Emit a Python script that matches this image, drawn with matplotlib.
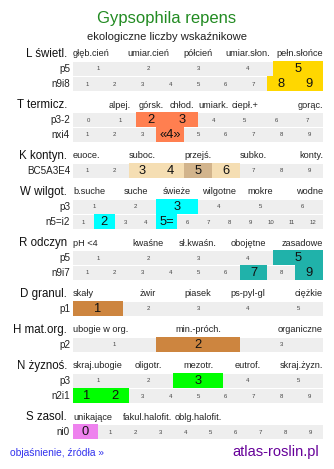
import matplotlib
matplotlib.use("Agg")
import matplotlib.pyplot as plt

plt.rcParams['font.family'] = ['Liberation Sans', 'DejaVu Sans']

# --- chart data -------------------------------------------------------------
title = "Gypsophila repens"
subtitle = "ekologiczne liczby wskaźnikowe"

L_name = "L świetl."
L_labels = ["głęb.cień", "umiar.cień", "półcień", "umiar.słon.", "pełn.słońce"]
L_rows = ["p5", "n9i8"]
L_ticks = [[1, 2, 3, 4, 5], [1, 2, 3, 4, 5, 6, 7, 8, 9]]
L_hi = [{5: "5"}, {8: "8", 9: "9"}]

T_name = "T termicz."
T_labels = ["", "alpej.", "górsk.", "chłod.", "umiark.", "ciepł.+", "", "gorąc."]
T_rows = ["p3-2", "nxi4"]
T_ticks = [[0, 1, 2, 3, 4, 5, 6, 7], [1, 2, 3, 4, 5, 6, 7, 8, 9]]
T_hi = [{2: "2", 3: "3"}, {4: "«4»"}]

K_name = "K kontyn."
K_labels = ["euoce.", "", "suboc.", "", "przejś.", "", "subko.", "", "konty."]
K_rows = ["BC5A3E4"]
K_ticks = [[1, 2, 3, 4, 5, 6, 7, 8, 9]]
K_hi = [{3: "3", 4: "4", 5: "5", 6: "6"}]

W_name = "W wilgot."
W_labels = ["b.suche", "suche", "świeże", "wilgotne", "mokre", "wodne"]
W_rows = ["p3", "n5=i2"]
W_ticks = [[1, 2, 3, 4, 5, 6], [1, 2, 3, 4, 5, 6, 7, 8, 9, 10, 11, 12]]
W_hi = [{3: "3"}, {2: "2", 5: "5="}]

R_name = "R odczyn"
R_labels = ["pH <4", "kwaśne", "sł.kwaśn.", "obojętne", "zasadowe"]
R_rows = ["p5", "n9i7"]
R_ticks = [[1, 2, 3, 4, 5], [1, 2, 3, 4, 5, 6, 7, 8, 9]]
R_hi = [{5: "5"}, {7: "7", 9: "9"}]

D_name = "D granul."
D_labels = ["skały", "żwir", "piasek", "ps-pyl-gl", "ciężkie"]
D_rows = ["p1"]
D_ticks = [[1, 2, 3, 4, 5]]
D_hi = [{1: "1"}]

H_name = "H mat.org."
H_labels = ["ubogie w org.", "", "min.-próch.", "", "organiczne"]
H_rows = ["p2"]
H_ticks = [[1, 2, 3]]
H_hi = [{2: "2"}]

N_name = "N żyznoś."
N_labels = ["skraj.ubogie", "oligotr.", "mezotr.", "eutrof.", "skraj.żyzn."]
N_rows = ["p3", "n2i1"]
N_ticks = [[1, 2, 3, 4, 5], [1, 2, 3, 4, 5, 6, 7, 8, 9]]
N_hi = [{3: "3"}, {1: "1", 2: "2"}]

S_name = "S zasol."
S_labels = ["unikające", "fakul.halofit.", "oblg.halofit.", "", ""]
S_rows = ["ni0"]
S_ticks = [[0, 1, 2, 3, 4, 5, 6, 7, 8, 9]]
S_hi = [{0: "0"}]

# --- styling ----------------------------------------------------------------
sections = [
    (L_name, L_labels, L_rows, L_ticks, L_hi, "#ffd700"),
    (T_name, T_labels, T_rows, T_ticks, T_hi, "#ff7f50"),
    (K_name, K_labels, K_rows, K_ticks, K_hi, "#f5deb3"),
    (W_name, W_labels, W_rows, W_ticks, W_hi, "#00ffff"),
    (R_name, R_labels, R_rows, R_ticks, R_hi, "#20b2aa"),
    (D_name, D_labels, D_rows, D_ticks, D_hi, "#cd853f"),
    (H_name, H_labels, H_rows, H_ticks, H_hi, "#cd853f"),
    (N_name, N_labels, N_rows, N_ticks, N_hi, "#00ff00"),
    (S_name, S_labels, S_rows, S_ticks, S_hi, "#ee82ee"),
]
K_mid_colour = "#d2b48c"   # the middle "5" of the continentality row

x0, x1 = 73, 323
bar_w = x1 - x0

fig = plt.figure(figsize=(3.34, 4.69), dpi=100)
ax = fig.add_axes([0, 0, 1, 1])
ax.set_xlim(0, 334)
ax.set_ylim(469, 0)
ax.axis("off")

ax.text(167, 19, title, color="#228b22", fontsize=12, ha="center", va="center")
ax.text(167, 37.5, subtitle, color="#222222", fontsize=8.1, ha="center", va="center")

y = 54
for name, labels, rows, ticks, hi, colour in sections:
    ax.text(67, y, name, fontsize=8.3, ha="right", va="center", color="#111111")
    n = len(labels)
    for i, lab in enumerate(labels):
        if not lab:
            continue
        if i == 0:
            ax.text(x0, y, lab, fontsize=6.6, ha="left", va="center", color="#222222")
        elif i == n - 1:
            ax.text(x1, y, lab, fontsize=6.6, ha="right", va="center", color="#222222")
        else:
            ax.text(x0 + (i + 0.5) * bar_w / n, y, lab, fontsize=6.6,
                    ha="center", va="center", color="#222222")
    y += 15
    for rname, tk, h in zip(rows, ticks, hi):
        ax.text(70, y, rname, fontsize=7.1, ha="right", va="center", color="#222222")
        w = bar_w / len(tk)
        ax.barh(y, bar_w, height=13.5, left=x0, color="#eeeeee", linewidth=0)
        for j, t in enumerate(tk):
            cx = x0 + (j + 0.5) * w
            if t in h:
                c = colour
                if name == K_name and t == 5:
                    c = K_mid_colour
                ax.barh(y, w, height=15, left=x0 + j * w, color=c, linewidth=0)
                ax.text(cx, y + 0.3, h[t], fontsize=9.3, ha="center", va="center",
                        color="#111111")
            else:
                ax.text(cx, y, str(t), fontsize=4.3, ha="center", va="center",
                        color="#444444")
        y += 15
    y += 6

ax.text(10, 453, "objaśnienie, źródła »", color="#3333ee", fontsize=7.4,
        ha="left", va="center")
ax.text(319, 452, "atlas-roslin.pl", color="#660099", fontsize=10.5,
        ha="right", va="center")

fig.savefig("out.png", dpi=100)
